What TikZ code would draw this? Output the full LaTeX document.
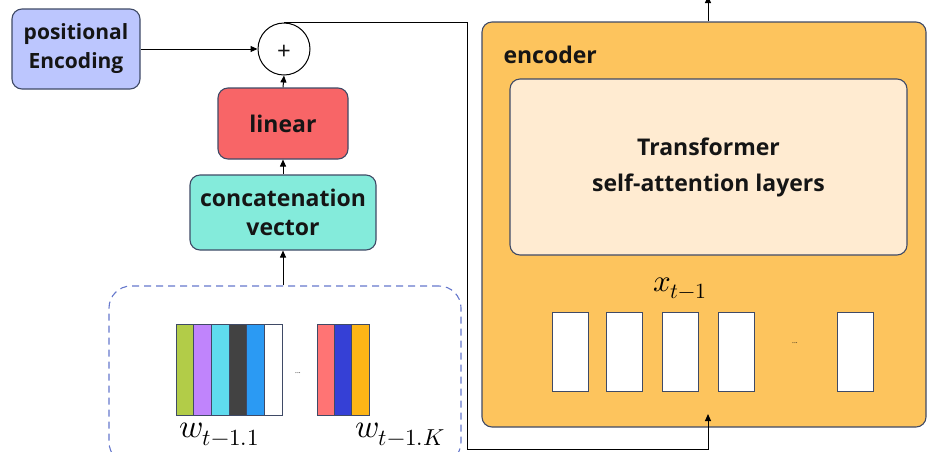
\documentclass[tikz,border=0pt]{standalone}
\usepackage{fontspec}
\usepackage{unicode-math}
\setmainfont{Open Sans}
\usetikzlibrary{arrows.meta}

\definecolor{edge}{HTML}{3F4A66}
\definecolor{txt}{HTML}{151515}
\definecolor{pefill}{HTML}{BCC6FE}
\definecolor{linfill}{HTML}{F86567}
\definecolor{catfill}{HTML}{84EBDB}
\definecolor{encfill}{HTML}{FDC45D}
\definecolor{trfill}{HTML}{FFEBD1}
\definecolor{dashcol}{HTML}{6678CC}
\definecolor{sA}{HTML}{B2CC48}
\definecolor{sB}{HTML}{C084FC}
\definecolor{sC}{HTML}{5FDBEF}
\definecolor{sD}{HTML}{424242}
\definecolor{sE}{HTML}{2B9AF3}
\definecolor{sF}{HTML}{FF7474}
\definecolor{sG}{HTML}{3540D6}
\definecolor{sH}{HTML}{FDB516}

\begin{document}
\begin{tikzpicture}[x=1pt,y=-1pt,
  box/.style={draw=edge, line width=1.1pt, rounded corners=10pt, align=center,
              text=txt, inner sep=0pt},
  cell/.style={draw=edge, line width=1pt, fill=white, inner sep=0pt,
               minimum width=36pt, minimum height=79pt},
  strip/.style={draw=edge, line width=0.9pt},
  arr/.style={draw=black, line width=1pt, -{Triangle[length=7pt,width=6pt]}}
]
\useasboundingbox (0,0) rectangle (928,451);

% encoder container and its contents
\node[box, fill=encfill, minimum width=444pt, minimum height=405pt] (enc) at (704,224.5) {};
\node[anchor=base west, text=txt, font=\bfseries\fontsize{23}{25}\selectfont] (enclbl) at (500,63) {encoder};
\node[box, fill=trfill, minimum width=397pt, minimum height=176pt,
      font=\bfseries\fontsize{23}{36}\selectfont] (tr) at (708.5,167)
      {Transformer\\self-attention layers};
\node[anchor=base west, inner sep=0pt, font=\fontsize{31}{36}\selectfont] (xlbl) at (653,291) {$x_{t-1}$};
\node[cell] (c1) at (570.5,351.5) {};
\node[cell] (c2) at (624.5,351.5) {};
\node[cell] (c3) at (680,351.5) {};
\node[cell] (c4) at (736,351.5) {};
\node[font=\fontsize{7}{8}\selectfont, text=txt] (cdots) at (795,343) {...};
\node[cell] (c5) at (855,351.5) {};

% left-hand pipeline
\node[box, fill=pefill, minimum width=128pt, minimum height=80pt,
      font=\bfseries\fontsize{21}{29}\selectfont] (pe) at (76,49) {positional\\Encoding};
\node[draw=black, line width=1pt, fill=white, circle, minimum size=52pt, inner sep=0pt] (plus) at (284,49) {};
\node[text=txt, inner sep=0pt, font=\fontsize{24}{24}\selectfont] (plussign) at (284,52) {+};
\node[box, fill=linfill, minimum width=130pt, minimum height=71pt,
      font=\bfseries\fontsize{23}{29}\selectfont] (lin) at (283,123.5) {linear};
\node[box, fill=catfill, minimum width=186pt, minimum height=75pt,
      font=\bfseries\fontsize{23}{29}\selectfont] (cat) at (283,212.5) {concatenation\\vector};

% dashed group of word vectors
\node[draw=dashcol, line width=1.1pt, dash pattern=on 7pt off 5pt, rounded corners=22pt,
      minimum width=352pt, minimum height=178pt, inner sep=0pt] (grp) at (285,375) {};

\foreach \c [count=\i] in {sA,sB,sC,sD,sE,white}
  \draw[strip, fill=\c] ({176+(\i-1)*17.667},324) rectangle ++(17.667,91);
\foreach \c [count=\i] in {sF,sG,sH}
  \draw[strip, fill=\c] ({317+(\i-1)*17.333},324) rectangle ++(17.333,91);
\node[font=\fontsize{7}{8}\selectfont, text=txt] (wdots) at (298,373) {...};
\node[anchor=base west, inner sep=0pt, font=\fontsize{33}{36}\selectfont] (w1) at (179,437) {$w_{t-1.1}$};
\node[anchor=base west, inner sep=0pt, font=\fontsize{33}{36}\selectfont] (wk) at (355,437) {$w_{t-1.K}$};

% connectors
\coordinate (loopR) at (467,21);
\coordinate (loopB) at (467,449);
\coordinate (entry) at (708,414);
\coordinate (out) at (708,-4);

\draw[arr] (pe.east) -- (plus.west);
\draw[arr] (lin.north) -- (plus.south);
\draw[arr] (cat.north) -- (lin.south);
\draw[arr] (cat.south |- grp.north) -- (cat.south);
\draw[arr] (plus.north) -- (plus.north -| loopR) -- (loopB) -- (loopB -| entry) -- (entry);
\draw[arr] (enc.north -| out) -- (out);
\end{tikzpicture}
\end{document}
